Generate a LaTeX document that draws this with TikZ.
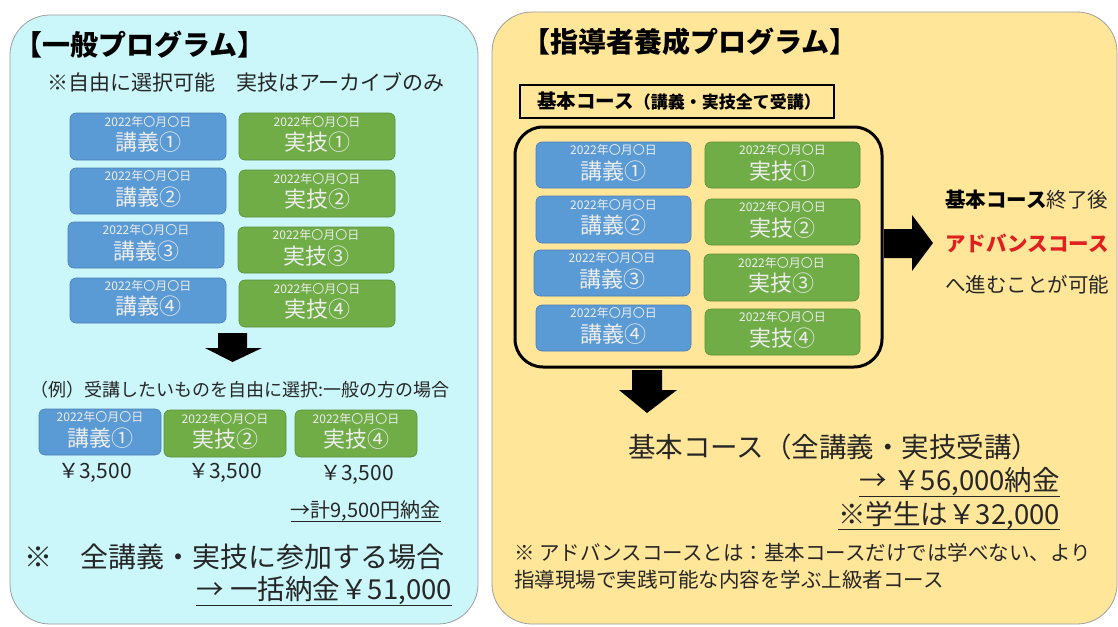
\documentclass[tikz,border=0pt]{standalone}
\usepackage{fontspec}
\setmainfont{Noto Sans CJK JP}
\definecolor{cyanbg}{HTML}{CCF7FA}
\definecolor{yellbg}{HTML}{FFE699}
\definecolor{lblue}{HTML}{5B9BD5}
\definecolor{lbluedk}{HTML}{4A7EB5}
\definecolor{lgreen}{HTML}{70AD47}
\definecolor{lgreendk}{HTML}{5A8E38}
\definecolor{txt}{HTML}{262626}
\definecolor{advred}{HTML}{E02020}
\newcommand{\fs}[1]{\fontsize{#1}{#1}\selectfont}
\newcommand{\boxtxt}[1]{{\fs{12}2022年〇月〇日}\\[4pt]{\fs{22}#1}}
\newcommand{\mkbox}[7]{\node[#7, minimum width={(#4-#2)*1pt}, minimum height={(#5-#3)*1pt}] (#1) at ({(#2+#4)/2},{(#3+#5)/2}) {};
  \node[boxtext] (#1t) at ([yshift=2pt]#1.center) {\boxtxt{#6}};}
\begin{document}
\begin{tikzpicture}[x=1pt,y=-1pt,
  panel/.style={draw=gray!75, line width=0.8pt, rounded corners=40pt},
  lecbox/.style={draw=lbluedk, fill=lblue, rounded corners=6pt, inner sep=0pt, line width=0.6pt},
  pracbox/.style={draw=lgreendk, fill=lgreen, rounded corners=6pt, inner sep=0pt, line width=0.6pt},
  boxtext/.style={text=white!93!black, align=center, inner sep=0pt},
  lbl/.style={inner sep=0pt, text=txt},
  uline/.style={line width=1.3pt, txt},
  blockarrow/.style={fill=black, draw=none}]
\useasboundingbox[fill=white] (0,0) rectangle (1118,626);
% panels
\draw[panel, fill=cyanbg] (10,15) rectangle (478,624);
\draw[panel, fill=yellbg] (492,12) rectangle (1117,624);
% ---------- left panel ----------
\node[lbl, anchor=west, font=\fs{28}\bfseries, text=black] (ltitle) at (14,45) {【一般プログラム】};
\node[lbl, anchor=west, font=\fs{21}] (lsub) at (47,82) {※自由に選択可能　実技はアーカイブのみ};
\mkbox{l1}{70}{113}{226}{160}{講義①}{lecbox}
\mkbox{l2}{70}{168}{226}{214}{講義②}{lecbox}
\mkbox{l3}{68}{222}{224}{268}{講義③}{lecbox}
\mkbox{l4}{70}{278}{226}{323}{講義④}{lecbox}
\mkbox{p1}{239}{113}{395}{160}{実技①}{pracbox}
\mkbox{p2}{239}{170}{395}{217}{実技②}{pracbox}
\mkbox{p3}{238}{227}{394}{273}{実技③}{pracbox}
\mkbox{p4}{239}{280}{395}{327}{実技④}{pracbox}
\fill[blockarrow] (218,333) -- (247,333) -- (247,348) -- (262,348) -- (232.5,362) -- (205,348) -- (218,348) -- cycle;
\node[lbl, anchor=west, font=\fs{18}] (lex) at (30,390) {（例）受講したいものを自由に選択:一般の方の場合};
\mkbox{e1}{39}{409}{161}{455}{講義①}{lecbox}
\mkbox{e2}{164}{410}{286}{457}{実技②}{pracbox}
\mkbox{e3}{295}{410}{417}{457}{実技④}{pracbox}
\node[lbl, font=\fs{21}] (pr1) at (95,473) {￥3,500};
\node[lbl, font=\fs{21}] (pr2) at (225,473) {￥3,500};
\node[lbl, font=\fs{21}] (pr3) at (357,475) {￥3,500};
\node[lbl, anchor=east, font=\fs{20}] (ltot) at (441,511) {→計9,500円納金};
\draw[line width=0.8pt, txt] (ltot.south west) -- (ltot.south east);
\node[lbl, anchor=west, font=\fs{28}] (lall) at (24,557) {※　全講義・実技に参加する場合};
\node[lbl, anchor=east, font=\fs{27.5}] (lpay) at (452,591) {→ 一括納金￥51,000};
\draw[uline] (lpay.south west) -- (lpay.south east);
% ---------- right panel ----------
\node[lbl, anchor=west, font=\fs{28}\bfseries, text=black] (rtitle) at (522,42) {【指導者養成プログラム】};
\node[draw=black, line width=2pt, anchor=west, minimum width=314pt, minimum height=33pt, inner sep=0pt, text=black] (basic) at (519,101.5) {\hspace{4pt}{\fs{19.5}\bfseries 基本コース}{\fs{17}\bfseries（講義・実技全て受講）}\hfill};
\draw[line width=3pt, rounded corners=28pt] (515,127) rectangle (882,367);
\mkbox{rl1}{536}{142}{691}{188}{講義①}{lecbox}
\mkbox{rl2}{536}{196}{691}{243}{講義②}{lecbox}
\mkbox{rl3}{534}{250}{690}{296}{講義③}{lecbox}
\mkbox{rl4}{536}{305}{691}{351}{講義④}{lecbox}
\mkbox{rp1}{705}{142}{860}{188}{実技①}{pracbox}
\mkbox{rp2}{705}{199}{860}{245}{実技②}{pracbox}
\mkbox{rp3}{704}{254}{859}{301}{実技③}{pracbox}
\mkbox{rp4}{705}{309}{860}{355}{実技④}{pracbox}
\fill[blockarrow] (884,229) -- (912,229) -- (912,215) -- (933,243) -- (912,271) -- (912,258) -- (884,258) -- cycle;
\node[lbl, anchor=west, font=\fs{20.5}] (adv1) at (945,200) {{\bfseries\color{black}基本コース}終了後};
\node[lbl, anchor=west, font=\fs{20.5}\bfseries, text=advred] (adv2) at (945,243) {アドバンスコース};
\node[lbl, anchor=west, font=\fs{20.5}] (adv3) at (945,285) {へ進むことが可能};
\fill[blockarrow] (632,370) -- (662,370) -- (662,390) -- (677,390) -- (647,413) -- (619,390) -- (632,390) -- cycle;
\node[lbl, anchor=west, font=\fs{27.5}] (rall) at (628,447) {基本コース（全講義・実技受講）};
\node[lbl, anchor=east, font=\fs{27.5}] (rpay) at (1060,482) {→ ￥56,000納金};
\draw[uline] (rpay.south west) -- (rpay.south east);
\node[lbl, anchor=east, font=\fs{27.5}] (rstu) at (1060,515) {※学生は￥32,000};
\draw[uline] (rstu.south west) -- (rstu.south east);
\node[lbl, anchor=west, font=\fs{20.5}] (note1) at (514,553) {※ アドバンスコースとは：基本コースだけでは学べない、より};
\node[lbl, anchor=west, font=\fs{20.5}] (note2) at (514,580) {指導現場で実践可能な内容を学ぶ上級者コース};
\end{tikzpicture}
\end{document}
